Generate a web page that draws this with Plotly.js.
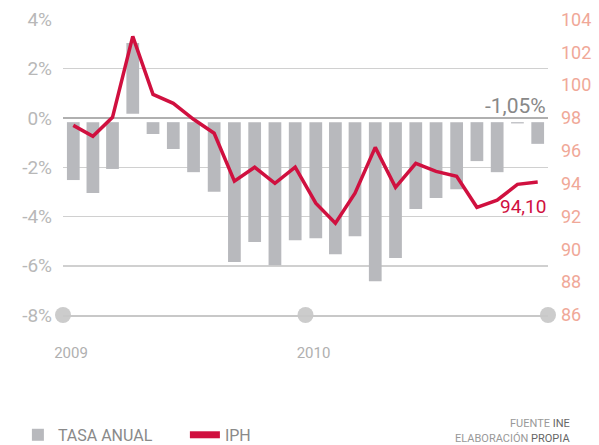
<!DOCTYPE html>
<html>
<head>
<meta charset="utf-8">
<script src="https://cdn.plot.ly/plotly-3.0.1.min.js"></script>
<style>html,body{margin:0;padding:0;background:#fff;}#chart{width:599px;height:445px;}</style>
</head>
<body>
<div id="chart"></div>
<script>
// Months (Jan 2009 – Dec 2010)
const months = ['2009-01','2009-02','2009-03','2009-04','2009-05','2009-06','2009-07','2009-08','2009-09','2009-10','2009-11','2009-12',
                '2010-01','2010-02','2010-03','2010-04','2010-05','2010-06','2010-07','2010-08','2010-09','2010-10','2010-11','2010-12'];
// Tasa anual (%)
const tasaAnual = [-2.52,-3.05,-2.07,3.05,-0.65,-1.26,-2.2,-3.0,-5.85,-5.04,-5.98,-4.96,
                   -4.88,-5.53,-4.8,-6.63,-5.69,-3.7,-3.25,-2.89,-1.75,-2.2,-0.22,-1.05];
// IPH index
const iph = [97.55,96.88,98.04,102.97,99.44,98.89,97.92,97.07,94.15,95.0,94.02,95.0,
             92.81,91.59,93.42,96.21,93.78,95.24,94.75,94.45,92.56,92.99,93.96,94.10];
const yearTicks = ['2009-01-01','2010-01-01','2011-01-01'];
const yearLabels = ['2009','2010',''];
const leftTicks = [-8,-6,-4,-2,0,2,4];
const leftLabels = ['-8%','-6%','-4%','-2%','0%','2%','4%'];
const rightTicks = [86,88,90,92,94,96,98,100,102,104];

const gap = 0.17;
const bases = tasaAnual.map(v => v < 0 ? -gap : gap);
const lens = tasaAnual.map((v,i) => v - bases[i]);

const font = 'Roboto, "Open Sans", sans-serif';
const red = '#d0103f';
const traces = [
  {type:'bar', name:'TASA ANUAL', x:months, y:lens, base:bases, xperiod:'M1', xperiodalignment:'middle',
   marker:{color:'#b8b9bd'}, hoverinfo:'skip'},
  {type:'scatter', mode:'lines', name:'IPH', x:months, y:iph, yaxis:'y2', xperiod:'M1', xperiodalignment:'middle',
   line:{color:red, width:3.5}, hoverinfo:'skip', showlegend:false},
  {type:'scatter', mode:'lines', name:'IPH', x:[null], y:[null], yaxis:'y2', line:{color:red, width:7}, hoverinfo:'skip'},
  {type:'scatter', mode:'markers', x:yearTicks, y:yearTicks.map(()=>-8), showlegend:false, cliponaxis:false,
   marker:{color:'#cccccc', size:16}, hoverinfo:'skip'}
];

const layout = {
  width:599, height:445,
  margin:{l:63, r:51, t:19, b:130, autoexpand:false},
  paper_bgcolor:'#fff', plot_bgcolor:'#fff',
  font:{family:font, color:'#aaa'},
  bargap:0.35,
  showlegend:true,
  legend:{orientation:'h', x:-0.093, xanchor:'left', y:-0.405, yanchor:'middle',
          font:{family:font, size:16, color:'#8a8a8a'}, entrywidth:122, entrywidthmode:'pixels',
          itemclick:false},
  xaxis:{type:'date', range:['2009-01-01','2011-01-01'], tickvals:yearTicks, ticktext:yearLabels,
         showgrid:false, zeroline:false, showline:true, linecolor:'#c8c8c8', linewidth:1.5, ticks:'',
         ticklabelshift:8, ticklabelstandoff:23,
         tickfont:{family:font, size:15, color:'#b0b0b0'}},
  yaxis:{range:[-8,4.02], tickvals:leftTicks, ticktext:leftLabels, showgrid:true, gridcolor:'#d0d0d0', gridwidth:1.5,
         zeroline:true, zerolinecolor:'#b0b0b0', zerolinewidth:1.5, ticks:'', ticklabelstandoff:10,
         tickfont:{family:font, size:19, color:'#b8b8b8'}},
  yaxis2:{range:[86,104.03], tickvals:rightTicks, overlaying:'y', side:'right', showgrid:false, zeroline:false,
          ticks:'', ticklabelstandoff:12, tickfont:{family:font, size:18, color:'#f0a898'}},
  annotations:[
    {x:'2011-01-01', y:0, xref:'x', yref:'y', xanchor:'right', yanchor:'bottom', yshift:-2, showarrow:false,
     text:'-1,05%', font:{family:font, size:21, color:'#888'}},
    {x:'2011-01-01', y:iph[iph.length-1], xref:'x', yref:'y2', xanchor:'right', yanchor:'top', yshift:-11, showarrow:false,
     text:'94,10', font:{family:font, size:19, color:red}},
    {x:1.047, y:-0.368, xref:'paper', yref:'paper', xanchor:'right', yanchor:'middle', showarrow:false, borderpad:0,
     text:'FUENTE <span style="color:#666">INE</span>', font:{family:font, size:11, color:'#999'}},
    {x:1.047, y:-0.417, xref:'paper', yref:'paper', xanchor:'right', yanchor:'middle', showarrow:false, borderpad:0,
     text:'ELABORACIÓN <span style="color:#666">PROPIA</span>', font:{family:font, size:11, color:'#999'}}
  ]
};

Plotly.newPlot('chart', traces, layout, {displayModeBar:false, staticPlot:true});
</script>
</body>
</html>
